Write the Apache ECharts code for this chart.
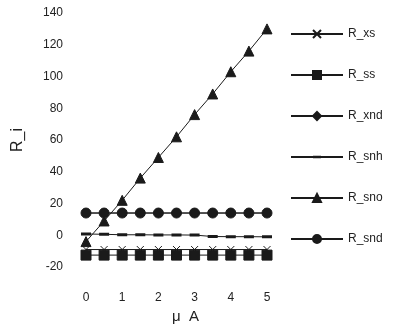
<!DOCTYPE html>
<html><head><meta charset="utf-8">
<script src="https://cdn.jsdelivr.net/npm/echarts@6/dist/echarts.min.js"></script>
<style>html,body{margin:0;padding:0;background:#fff}#c{width:396px;height:324px}</style>
</head><body><div id="c"></div>
<script>
const xValues = [0, 0.5, 1, 1.5, 2, 2.5, 3, 3.5, 4, 4.5, 5];
const R_xs  = [-9, -9, -9, -9, -9, -9, -9, -9, -9, -9, -9];
const R_ss  = [-12.5, -12.5, -12.5, -12.5, -12.5, -12.5, -12.5, -12.5, -12.5, -12.5, -12.5];
const R_xnd = [14, 14, 14, 14, 14, 14, 14, 14, 14, 14, 14];
const R_snh = [0.8, 0.6, 0.3, 0.3, 0.2, 0.2, 0.1, -0.8, -0.9, -0.9, -1];
const R_sno = [-4, 9, 22, 36, 49, 62, 76, 89, 103, 116, 130];
const R_snd = [14, 14, 14, 14, 14, 14, 14, 14, 14, 14, 14];
const yTicks = [-20, 0, 20, 40, 60, 80, 100, 120, 140];
const xTicks = [0, 1, 2, 3, 4, 5];

const pair = arr => xValues.map((x, i) => [x, arr[i]]);
const font = '"Liberation Sans", Arial, sans-serif';
const ink = '#1a1a1a';
function mk(name, data, symbol, size, z, extra) {
  return Object.assign({
    name, type: 'line', data: pair(data), symbol, symbolSize: size, z,
    clip: false, animation: false,
    lineStyle: { color: ink, width: 1 },
    itemStyle: { color: ink, borderColor: ink, borderWidth: 1 }
  }, extra || {});
}
const dashSym = 'path://M0,0L0.01,0L0.01,0.01L0,0.01ZM0,3.5L10,3.5L10,6.5L0,6.5ZM9.99,9.99L10,9.99L10,10L9.99,10Z';
const chart = echarts.init(document.getElementById('c'));
chart.setOption({
  animation: false,
  grid: { left: 86, right: 129, top: 13, bottom: 57, outerBoundsMode: 'none', containLabel: false },
  xAxis: {
    type: 'value', min: xTicks[0], max: xTicks[xTicks.length - 1], interval: 1,
    axisLine: { show: false }, axisTick: { show: false }, splitLine: { show: false },
    axisLabel: { margin: 25, fontFamily: font, fontSize: 12, color: '#222' },
    name: 'μ  A', nameLocation: 'middle', nameGap: 36,
    nameTextStyle: { fontFamily: font, fontSize: 15, color: '#222', padding: [0, 0, 0, 18] }
  },
  yAxis: {
    type: 'value', min: yTicks[0], max: yTicks[yTicks.length - 1], interval: 20,
    axisLine: { show: false }, axisTick: { show: false }, splitLine: { show: false },
    axisLabel: { margin: 23, fontFamily: font, fontSize: 12, color: '#222' },
    name: 'R_i', nameLocation: 'middle', nameGap: 60, nameRotate: 90,
    nameTextStyle: { fontFamily: font, fontSize: 16, color: '#222' }
  },
  legend: {
    orient: 'vertical', left: 285, top: 23, itemWidth: 52, itemHeight: 10, itemGap: 29,
    textStyle: { fontFamily: font, fontSize: 12, color: '#222' },
    data: ['R_xs', 'R_ss', 'R_xnd', 'R_snh', 'R_sno', 'R_snd']
  },
  series: [
    mk('R_xs', R_xs, 'path://M0,0L10,10M10,0L0,10', 7, 2),
    mk('R_ss', R_ss, 'rect', 10, 3),
    mk('R_xnd', R_xnd, 'diamond', 7, 2),
    mk('R_snh', R_snh, dashSym, 10, 2, { itemStyle: { color: ink, borderWidth: 0 } }),
    mk('R_sno', R_sno, 'triangle', 10, 4),
    mk('R_snd', R_snd, 'circle', 10, 3)
  ]
});
</script></body></html>
